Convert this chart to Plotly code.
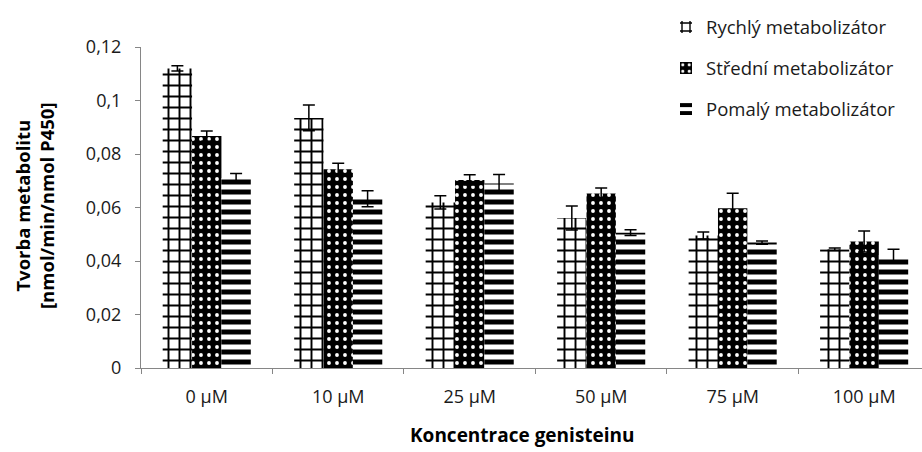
import plotly.graph_objects as go

# Genistein concentrations (x categories)
categories = ["0 µM", "10 µM", "25 µM", "50 µM", "75 µM", "100 µM"]

# Metabolite formation [nmol/min/nmol P450] and standard deviations
rychly = [0.112, 0.0935, 0.0619, 0.0561, 0.0495, 0.0444]
rychly_err = [0.001, 0.0048, 0.0025, 0.0045, 0.0013, 0.0005]

stredni = [0.0867, 0.0743, 0.0703, 0.0652, 0.0597, 0.0473]
stredni_err = [0.0019, 0.0022, 0.0019, 0.0021, 0.0056, 0.0039]

pomaly = [0.0709, 0.0633, 0.069, 0.0506, 0.0469, 0.0422]
pomaly_err = [0.0018, 0.003, 0.0033, 0.0011, 0.0006, 0.0022]

series_names = ["Rychlý metabolizátor", "Střední metabolizátor", "Pomalý metabolizátor"]

y_tick_vals = [0, 0.02, 0.04, 0.06, 0.08, 0.1, 0.12]
y_tick_text = ["0", "0,02", "0,04", "0,06", "0,08", "0,1", "0,12"]

FONT = "Open Sans"

err_style = dict(type="data", visible=True, color="black", thickness=1.5, width=6)

fig = go.Figure()

fig.add_trace(go.Bar(
    x=categories, y=rychly, name=series_names[0], legendgroup="a",
    error_y=dict(array=rychly_err, **err_style),
    marker=dict(color="white", line=dict(width=0),
                pattern=dict(shape="+", fgcolor="black", bgcolor="white",
                             size=11, solidity=0.32, fillmode="replace")),
))
fig.add_trace(go.Bar(
    x=categories, y=stredni, name=series_names[1], legendgroup="b",
    error_y=dict(array=stredni_err, **err_style),
    marker=dict(color="black", line=dict(width=0),
                pattern=dict(shape=".", fgcolor="white", bgcolor="black",
                             size=8, solidity=0.18, fillmode="replace")),
))
fig.add_trace(go.Bar(
    x=categories, y=pomaly, name=series_names[2], legendgroup="c",
    error_y=dict(array=pomaly_err, **err_style),
    marker=dict(color="white", line=dict(width=0),
                pattern=dict(shape="-", fgcolor="black", bgcolor="white",
                             size=10, solidity=0.5, fillmode="replace")),
))

# plot area spans x 141..922 px, y 47..368 px
PX_W, PX_H = 781, 321

fig.update_layout(
    width=922, height=452,
    margin=dict(l=141, r=0, t=47, b=84, autoexpand=False),
    paper_bgcolor="white", plot_bgcolor="white",
    barmode="group", bargap=0.33, bargroupgap=0,
    font=dict(family=FONT, size=18, color="#1a1a1a"),
    showlegend=True,
    legend=dict(x=(666 - 141) / PX_W, y=1.12, xanchor="left", yanchor="top",
                font=dict(family=FONT, size=18.5, color="#1a1a1a"),
                tracegroupgap=14, bgcolor="rgba(0,0,0,0)"),
    xaxis=dict(type="category", range=[-0.5, 5.44], tickson="boundaries",
               ticks="outside", ticklen=5, tickcolor="#868686",
               showline=True, linecolor="#868686", linewidth=1,
               showgrid=False, tickfont=dict(size=18), ticklabelstandoff=12,
               automargin=False),
    yaxis=dict(range=[0, 0.12], tickvals=y_tick_vals, ticktext=y_tick_text,
               ticks="outside", ticklen=5, tickcolor="#868686",
               showline=True, linecolor="#868686", linewidth=1,
               showgrid=False, zeroline=False, tickfont=dict(size=18),
               ticklabelstandoff=10, automargin=False),
    annotations=[
        dict(text="<b>Koncentrace genisteinu</b>", xref="paper", yref="paper",
             x=(522 - 141) / PX_W, y=-(435 - 368) / PX_H, xanchor="center", yanchor="middle",
             showarrow=False, font=dict(family=FONT, size=19, color="black")),
        dict(text="<b>Tvorba metabolitu<br>[nmol/min/nmol P450]</b>", xref="paper", yref="paper",
             x=-(141 - 34) / PX_W, y=(368 - 206) / PX_H, xanchor="center", yanchor="middle",
             textangle=-90, showarrow=False,
             font=dict(family=FONT, size=18.5, color="black")),
    ],
)

fig.write_html("out.html")
